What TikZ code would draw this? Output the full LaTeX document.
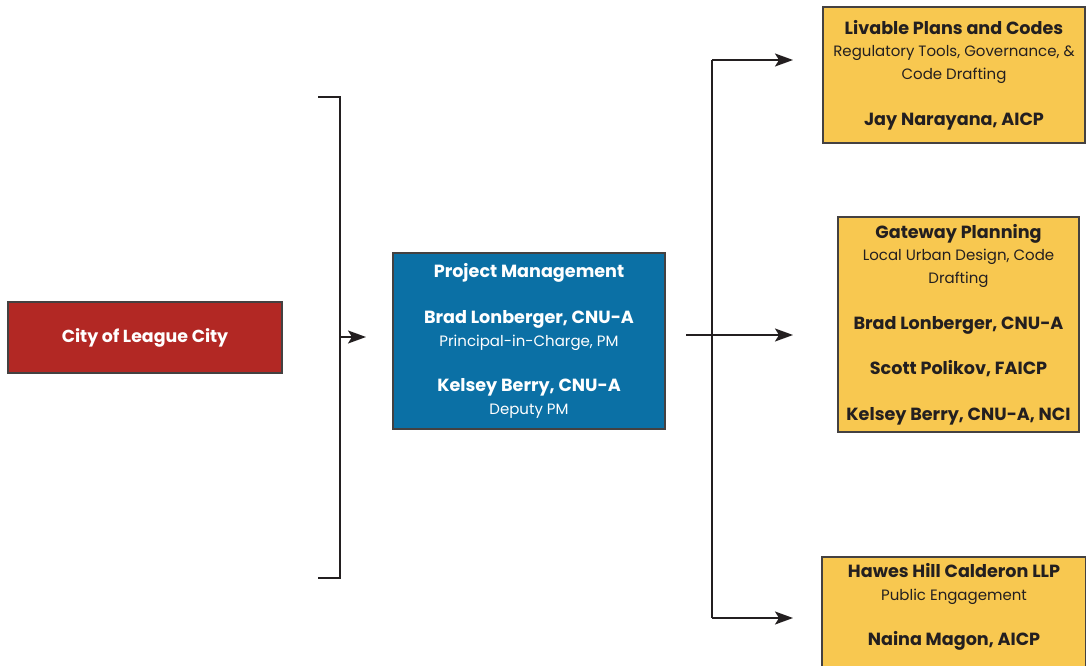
\documentclass[tikz,border=0pt]{standalone}
\usepackage{fontspec}
\setmainfont{Poppins}
\usetikzlibrary{arrows.meta}
\definecolor{cityred}{HTML}{B22824}
\definecolor{pmblue}{HTML}{0B70A5}
\definecolor{teamyellow}{HTML}{F8C850}
\definecolor{ink}{HTML}{231F20}
\newcommand{\hdtext}[1]{{\bfseries\fontsize{17.6}{22.8}\selectfont #1}}
\begin{document}
\begin{tikzpicture}[x=1pt,y=-1pt,
  box/.style={draw=ink!85, line width=1.2pt, rectangle, inner sep=0pt, align=center,
    font=\fontsize{15}{22.8}\selectfont},
  ybox/.style={box, fill=teamyellow, text=ink},
  conn/.style={line width=1.8pt, draw=ink},
  arr/.style={conn, -{Stealth[length=18pt,width=13pt,inset=4pt]}}]
\useasboundingbox (0,0) rectangle (1086,666);
\clip (0,0) rectangle (1086,666);

\node[box, fill=cityred, text=white, minimum width=274, minimum height=71,
  font=\fontsize{17.4}{20}\selectfont\bfseries] (city) at (145,337.5) {City of League City};

\node[box, fill=pmblue, text=white, minimum width=272, minimum height=176] (pm) at (529,341)
  {\hdtext{Project Management}\\[22.8pt]
   \hdtext{Brad Lonberger, CNU-A}\\
   Principal-in-Charge, PM\\[22.8pt]
   \hdtext{Kelsey Berry, CNU-A}\\
   Deputy PM};

\node[ybox, minimum width=262, minimum height=136] (lpc) at (954,75)
  {\hdtext{Livable Plans and Codes}\\
   Regulatory Tools, Governance, \&\\
   Code Drafting\\[22.8pt]
   \hdtext{Jay Narayana, AICP}};

\node[ybox, minimum width=241, minimum height=215] (gp) at (958.5,324.5)
  {\hdtext{Gateway Planning}\\
   Local Urban Design, Code\\
   Drafting\\[22.8pt]
   \hdtext{Brad Lonberger, CNU-A}\\[22.8pt]
   \hdtext{Scott Polikov, FAICP}\\[22.8pt]
   \hdtext{Kelsey Berry, CNU-A, NCI}};

\path[fill=teamyellow, draw=ink!85, line width=1.2pt] (822,690) -- (822,557) -- (1086,557) -- (1086,690);
\node[text=ink, align=center, inner sep=0pt, font=\fontsize{15}{22.8}\selectfont] (hhc) at (954,607)
  {\hdtext{Hawes Hill Calderon LLP}\\
   Public Engagement\\[22.8pt]
   \hdtext{Naina Magon, AICP}};

% left bracket
\coordinate (bt) at (318,97);
\coordinate (bb) at (318,578);
\coordinate (bm) at (340,337);
\coordinate (pmin) at (366,337);
\draw[conn] (bt) -- (340,97) -- (340,578) -- (bb);
\draw[arr] (bm) -- (pmin);

% right distribution
\coordinate (pmout) at (686,335);
\coordinate (vt) at (712,60);
\coordinate (vb) at (712,618);
\coordinate (t1) at (793,60);
\coordinate (t2) at (793,335);
\coordinate (t3) at (793,618);
\draw[conn] (vt) -- (vb);
\draw[arr] (pmout) -- (t2);
\draw[arr] (vt) -- (t1);
\draw[arr] (vb) -- (t3);
\end{tikzpicture}
\end{document}
